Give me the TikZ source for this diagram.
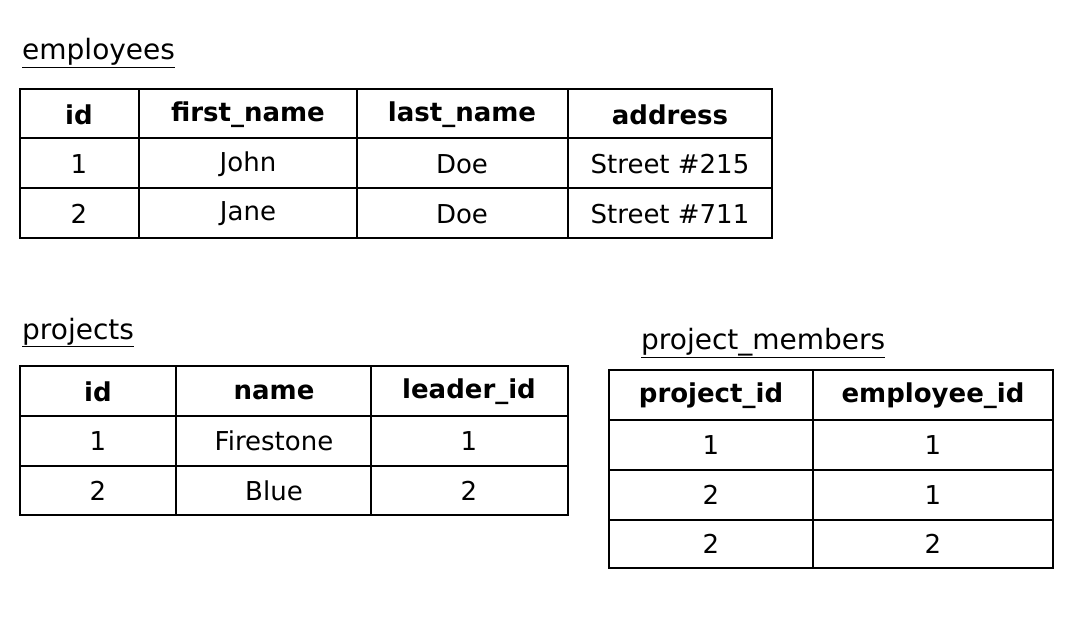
\documentclass[tikz,border=0pt]{standalone}
\usepackage{fontspec}
\setmainfont{DejaVu Sans}
\begin{document}
\begin{tikzpicture}[x=1pt,y=-1pt,
  cell/.style={font=\fontsize{26}{30}\selectfont, anchor=center, inner sep=0pt},
  head/.style={cell, font=\fontsize{26}{30}\selectfont\bfseries},
  ttl/.style={font=\fontsize{28}{32}\selectfont, anchor=base west, inner sep=0pt},
  outer/.style={line width=2.6pt},
  inner/.style={line width=1.3pt}]
\useasboundingbox (0,0) rectangle (1089,623);
% employees
\node[ttl] (t1) at (22,60) {\underline{employees}};
\foreach \y in {138,188} \draw[inner] (20,\y) -- (772,\y);
\foreach \x in {139,357,568} \draw[inner] (\x,89) -- (\x,238);
\draw[outer] (20,89) rectangle (772,238);
\node[head] (e11) at (79,115) {id};
\node[head] (e12) at (248,115) {first\_name};
\node[head] (e13) at (462,115) {last\_name};
\node[head] (e14) at (670,115) {address};
\node[cell] (e21) at (79,164) {1};
\node[cell] (e22) at (248,164) {John};
\node[cell] (e23) at (462,164) {Doe};
\node[cell] (e24) at (670,164) {Street \#215};
\node[cell] (e31) at (79,214) {2};
\node[cell] (e32) at (248,214) {Jane};
\node[cell] (e33) at (462,214) {Doe};
\node[cell] (e34) at (670,214) {Street \#711};
% projects
\node[ttl] (t2) at (22,339) {\underline{projects}};
\foreach \y in {416,466} \draw[inner] (20,\y) -- (568,\y);
\foreach \x in {176,371} \draw[inner] (\x,366) -- (\x,515);
\draw[outer] (20,366) rectangle (568,515);
\node[head] (p11) at (98,392) {id};
\node[head] (p12) at (274,392) {name};
\node[head] (p13) at (469,392) {leader\_id};
\node[cell] (p21) at (98,441) {1};
\node[cell] (p22) at (274,441) {Firestone};
\node[cell] (p23) at (469,441) {1};
\node[cell] (p31) at (98,491) {2};
\node[cell] (p32) at (274,491) {Blue};
\node[cell] (p33) at (469,491) {2};
% project_members
\node[ttl] (t3) at (641,349) {\underline{project\_members}};
\foreach \y in {420,470,520} \draw[inner] (609,\y) -- (1053,\y);
\draw[inner] (813,370) -- (813,568);
\draw[outer] (609,370) rectangle (1053,568);
\node[head] (m11) at (711,396) {project\_id};
\node[head] (m12) at (933,396) {employee\_id};
\node[cell] (m21) at (711,445) {1};
\node[cell] (m22) at (933,445) {1};
\node[cell] (m31) at (711,495) {2};
\node[cell] (m32) at (933,495) {1};
\node[cell] (m41) at (711,544) {2};
\node[cell] (m42) at (933,544) {2};
\end{tikzpicture}
\end{document}
